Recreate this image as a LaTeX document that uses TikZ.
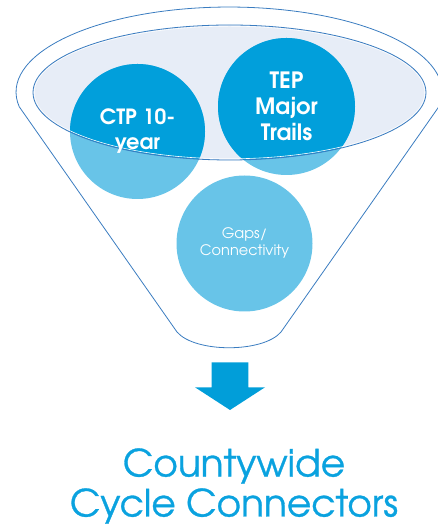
\documentclass[tikz,border=0pt]{standalone}
\usepackage{fontspec}
\setmainfont{TeX Gyre Adventor}
\newfontfamily\titlefont[FakeBold=0.8]{TeX Gyre Adventor}
\definecolor{darkc}{HTML}{019FDB}
\definecolor{lightc}{HTML}{68C4E8}
\definecolor{txtblue}{HTML}{0AA2DF}
\definecolor{arrowc}{HTML}{019ED9}
\definecolor{ellfill}{HTML}{E7EDF7}
\definecolor{outl}{HTML}{3A7CC0}
\begin{document}
\begin{tikzpicture}[x=1pt,y=1pt,
  funnelline/.style={draw=outl,line width=0.8pt},
  bigtext/.style={text=white,align=center},
]
\useasboundingbox (0,0) rectangle (438,527);
% outer funnel
\draw[funnelline] (438.8,420.2) arc[start angle=-10,end angle=190,x radius=213,y radius=85]
  -- (177,195) .. controls (195,174) and (263,174) .. (281,195) -- cycle;
% inner ellipse fill
\fill[ellfill] (229.5,434.5) ellipse[x radius=196.5,y radius=67.5];
% circles light
\fill[lightc] (137.5,395.5) circle[radius=67.5];
\fill[lightc] (286.5,420.5) circle[radius=68.5];
\fill[lightc] (244.5,283.5) circle[radius=68];
% dark parts inside ellipse
\begin{scope}
\clip (229.5,434.5) ellipse[x radius=196.5,y radius=67.5];
\fill[darkc] (137.5,395.5) circle[radius=67.5];
\fill[darkc] (286.5,420.5) circle[radius=68.5];
\end{scope}
\draw[white,line width=0.6pt] (229.5,434.5) ellipse[x radius=195.3,y radius=66.3];
\draw[outl,line width=0.8pt] (229.5,434.5) ellipse[x radius=196.5,y radius=67.5];
% texts
\node[bigtext,font=\bfseries\fontsize{21}{25}\selectfont] (ctp) at (137.5,396) {CTP 10-\\year};
\node[bigtext,font=\bfseries\fontsize{22.5}{26}\selectfont] (tep) at (286.5,421) {TEP\\Major\\Trails};
\node[text=white,align=center,font=\fontsize{14.5}{16.5}\selectfont] (gaps) at (244.5,284) {Gaps/\\Connectivity};
% arrow
\fill[arrowc] (211.7,164.7) -- (248.3,164.7) -- (248.3,139.7) -- (265,139.7) -- (230,117) -- (195,139.7) -- (211.7,139.7) -- cycle;
% bottom text
\node[text=txtblue,align=center,font=\titlefont\fontsize{37.5}{40}\selectfont] (title) at (234,41) {Countywide\\Cycle Connectors};
\end{tikzpicture}
\end{document}
